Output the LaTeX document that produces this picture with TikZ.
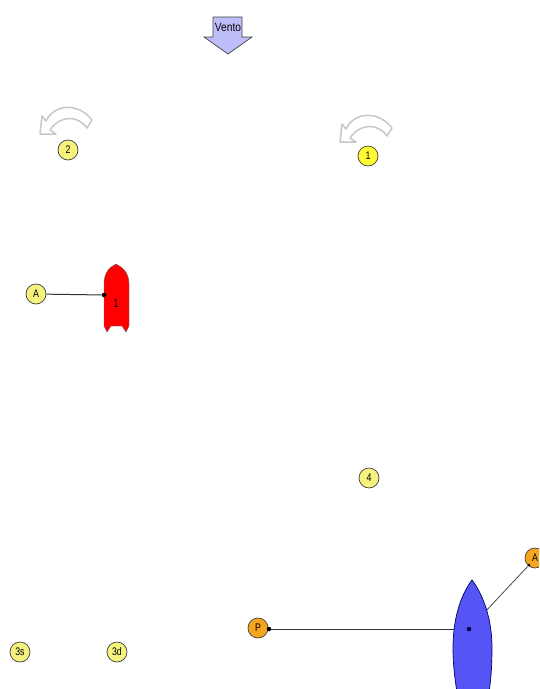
\documentclass[tikz,border=0pt]{standalone}
\usepackage{fontspec}
\setmainfont{Liberation Sans}
\definecolor{buoy}{RGB}{245,242,125}
\definecolor{buoyhi}{RGB}{255,250,50}
\definecolor{orangemark}{RGB}{245,165,30}
\definecolor{windblue}{RGB}{190,190,250}
\definecolor{boatblue}{RGB}{85,85,245}
\tikzset{
  mark/.style={circle,draw=black!75,line width=.7pt,fill=#1,minimum size=20pt,inner sep=0pt,font=\fontsize{11}{11}\selectfont\addfontfeatures{FakeStretch=.8}},
  pin/.style={circle,fill=black,minimum size=4.5pt,inner sep=0pt},
  turnarrow/.style={draw=black!22,fill=white,line width=1.5pt,line join=round},
}
\newcommand{\turnshape}[1]{%
\draw[turnarrow,shift={#1}] (0,0) -- (2,-18) -- (6,-13)
  .. controls (14,-30) and (38,-32) .. (52,-14) -- (47,-6)
  .. controls (38,-19) and (20,-19) .. (10,-4) -- (16,0) -- cycle;}
\begin{document}
\begin{tikzpicture}[x=1pt,y=-1pt]
\useasboundingbox (0,0) rectangle (539,689);
\clip (0,0) rectangle (539,689);
% wind
\draw[black!75,line width=.7pt,fill=windblue] (213,17) -- (242,17) -- (242,37) -- (252,37) -- (228,54) -- (204,37) -- (213,37) -- cycle;
\node (vento) at (228,27) {\fontsize{12}{12}\selectfont\addfontfeatures{FakeStretch=.85}Vento};
% turning points
\turnshape{(40,134)}
\turnshape{(340,142)}
\node[mark=buoy] (two) at (68,150) {2};
\node[mark=buoyhi] (one) at (368,156) {1};
\node[mark=buoy] (four) at (369,478) {4};
\node[mark=buoy] (threes) at (20,652) {3s};
\node[mark=buoy] (threed) at (117,652) {3d};
% red boat
\draw[black!60,fill=red] (116,264) .. controls (110,267) and (104,272) .. (104,284)
  -- (104,326) -- (107,332) -- (111,326) -- (122,326) -- (126,332) -- (129,326)
  -- (129,284) .. controls (129,272) and (122,267) .. (116,264) -- cycle;
\node[mark=buoy] (marka) at (36,294) {A};
\node[pin] (pinred) at (104,295) {};
\draw[black!80,line width=1pt] (marka) -- (pinred);
\node (redno) at (116,303) {\fontsize{12}{12}\selectfont\addfontfeatures{FakeStretch=.8}1};
% blue boat
\node[mark=orangemark] (markp) at (258,628) {P};
\node[pin] (pinp) at (269,629) {};
\node[mark=orangemark] (markb) at (535,558) {A};
\node[pin,minimum size=3pt] (pinb) at (529,565) {};
\coordinate (bluecentre) at (469,629);
\draw[black!80,line width=1pt] (pinp) -- (bluecentre);
\draw[black!70,line width=.8pt] (pinb) -- (bluecentre);
\draw[black!60!blue,line width=.7pt,fill=boatblue] (472,580) .. controls (460,596) and (453,620) .. (453,648)
  .. controls (453,665) and (455,680) .. (457,692) -- (489,692)
  .. controls (491,680) and (492,665) .. (492,648)
  .. controls (492,620) and (484,596) .. (472,580) -- cycle;
\node[pin,fill=black!80!blue] (pinblue) at (469,629) {};
\end{tikzpicture}
\end{document}
